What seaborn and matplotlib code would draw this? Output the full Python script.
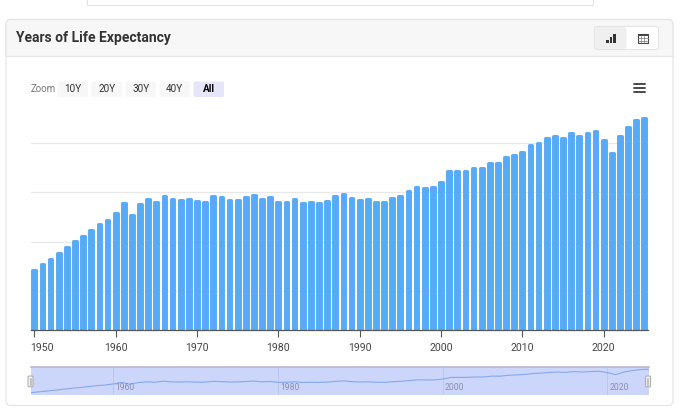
import pandas as pd
import seaborn as sns
from matplotlib import pyplot as plt
from matplotlib.patches import FancyBboxPatch, Rectangle
from matplotlib.transforms import Affine2D, ScaledTranslation

years = list(range(1950, 2026))
life_expectancy = [
    67.3, 67.9, 68.4, 69.0, 69.6, 70.2, 70.7, 71.3, 71.9, 72.3,
    73.0, 74.0, 72.8, 73.9, 74.4, 74.1, 74.8, 74.4, 74.3, 74.4,
    74.2, 74.1, 74.7, 74.6, 74.3, 74.3, 74.6, 74.9, 74.4, 74.6,
    74.1, 74.1, 74.4, 74.0, 74.1, 74.0, 74.2, 74.7, 75.0, 74.5,
    74.3, 74.4, 74.1, 74.1, 74.5, 74.8, 75.3, 75.7, 75.6, 75.7,
    76.2, 77.3, 77.3, 77.3, 77.6, 77.6, 78.1, 78.1, 78.7, 78.9,
    79.2, 79.9, 80.1, 80.6, 80.8, 80.6, 81.1, 80.8, 81.1, 81.3,
    80.4, 79.1, 80.8, 81.7, 82.4, 82.6,
]
axis_years = [1950, 1960, 1970, 1980, 1990, 2000, 2010, 2020]
grid_values = [65, 70, 75, 80]
nav_years = [1960, 1980, 2000, 2020]
zoom_labels = ['10Y', '20Y', '30Y', '40Y', 'All']

W, H = 680, 416
BAR_BLUE = '#56aaf7'

sns.set_theme(style='white')
plt.rcParams['font.family'] = ['Roboto', 'DejaVu Sans']

df = pd.DataFrame({'year': years, 'life': life_expectancy})

fig = plt.figure(figsize=(W / 100, H / 100), dpi=100, facecolor='white')


def px_axes(left, top, right, bottom, **kwargs):
    # axes placed with screenshot pixel coordinates
    return fig.add_axes([left / W, 1 - bottom / H, (right - left) / W, (bottom - top) / H], **kwargs)


# page furniture, drawn in pixel coordinates
bg = fig.add_axes([0, 0, 1, 1], zorder=0)
bg.set_xlim(0, W)
bg.set_ylim(H, 0)
bg.axis('off')

bg.add_patch(Rectangle((86.5, -5), 506, 9.5, fc='white', ec='#e4e4e4', lw=0.8))
bg.add_patch(FancyBboxPatch((6, 19.5), 667, 386, boxstyle='round,pad=0,rounding_size=5',
                            fc='white', ec='#e6e6e6', lw=0.9))
header = FancyBboxPatch((6, 19.5), 667, 50, boxstyle='round,pad=0,rounding_size=5',
                        fc='#f7f7f7', ec='#e6e6e6', lw=0.9)
bg.add_patch(header)
header.set_clip_path(Rectangle((0, 0), W, 56.2, transform=bg.transData))
bg.plot([6, 673], [56.2, 56.2], color='#e6e6e6', lw=0.9)

bg.text(16.4, 38, 'Years of Life Expectancy', fontsize=10, fontweight='bold',
        color='#333333', va='center', ha='left')

# chart / table toggle
bg.add_patch(FancyBboxPatch((594.5, 26.5), 64, 23, boxstyle='round,pad=0,rounding_size=3.5',
                            fc='white', ec='#e4e4e4', lw=0.8))
bg.add_patch(FancyBboxPatch((595, 27), 31.5, 22, boxstyle='round,pad=0,rounding_size=3',
                            fc='#efefef', ec='none'))
for bx, by in [(606.2, 40.2), (609.8, 37.2), (613.4, 33.6)]:
    bg.add_patch(Rectangle((bx, by), 2.6, 42.8 - by, fc='#333333', ec='none'))
bg.add_patch(Rectangle((637.5, 33.8), 10, 9.4, fc='white', ec='#444444', lw=0.8))
bg.add_patch(Rectangle((637.5, 33.8), 10, 2, fc='#444444', ec='none'))
for gx in [640.8, 644.2]:
    bg.plot([gx, gx], [35.8, 43.2], color='#777777', lw=0.5)
for gy in [38.4, 40.8]:
    bg.plot([637.5, 647.5], [gy, gy], color='#777777', lw=0.5)

# zoom buttons
bg.text(30.5, 89, 'Zoom', fontsize=7, color='#777777', va='center', ha='left')
for i, label in enumerate(zoom_labels):
    left = 57.5 + i * 34
    active = label == 'All'
    bg.add_patch(FancyBboxPatch((left, 81.5), 30.5, 15.5, boxstyle='round,pad=0,rounding_size=2',
                                fc='#e6e6fa' if active else '#f7f7f7', ec='none'))
    bg.text(left + 15.2, 89.2, label, fontsize=7.2, ha='center', va='center',
            color='#000000' if active else '#333333', fontweight='bold' if active else 'normal')

# burger menu
for my in [84.2, 88.3, 92.4]:
    bg.plot([634.2, 645.4], [my, my], color='#444444', lw=1.35, solid_capstyle='round')

# main chart
ax = px_axes(31, 92, 648, 330, zorder=2)
ax.patch.set_alpha(0)
sns.barplot(data=df, x='year', y='life', native_scale=True, color=BAR_BLUE, saturation=1,
            width=0.46, ax=ax)
ax.set_xlim(1949.59, 2025.45)
ax.set_ylim(61.08, 85.1)
ax.set_yticks(grid_values)
ax.set_yticklabels([])
ax.yaxis.grid(True, color='#e8e8e8', lw=0.9)
ax.set_axisbelow(True)
ax.set_xlabel('')
ax.set_ylabel('')
ax.set_xticks(axis_years)
ax.set_xticklabels([str(y) for y in axis_years])
ax.tick_params(axis='x', length=5, width=0.8, color='#555555', labelcolor='#444444',
               labelsize=7.6, pad=4.2, bottom=True)
ax.tick_params(axis='y', length=0)
for side in ['top', 'left', 'right']:
    ax.spines[side].set_visible(False)
ax.spines['bottom'].set_color('#555555')
ax.spines['bottom'].set_linewidth(0.9)

# thick round-joined edge gives the rounded bar tops, shifted down by the half edge width
for bar in ax.patches:
    bar.set_edgecolor(BAR_BLUE)
    bar.set_linewidth(2.1)
    bar.set_joinstyle('round')
    bar.set_transform(bar.get_data_transform() + Affine2D().translate(0, -1.45))

first = ax.get_xticklabels()[0]
first.set_ha('left')
first.set_transform(first.get_transform() + ScaledTranslation(-4.6 / 100, 0, fig.dpi_scale_trans))

# navigator strip
nav = px_axes(31, 367, 648.5, 395, zorder=2)
nav.set_facecolor('#ccd5fa')
sns.lineplot(data=df, x='year', y='life', color='#86a9ec', lw=0.8, ax=nav)
nav.set_xlim(1950, 2025)
nav.set_ylim(65.8, 84.1)
nav.set_xticks([])
nav.set_yticks([])
nav.set_xlabel('')
nav.set_ylabel('')
for side in ['left', 'right', 'bottom']:
    nav.spines[side].set_visible(False)
nav.spines['top'].set_color('#b9b9cc')
nav.spines['top'].set_linewidth(1.2)
for y in nav_years:
    nav.axvline(y, color='#bcc6ee', lw=0.7, zorder=1)
    nav.annotate(str(y), (y, 65.8), xytext=(1.6, 1.8), textcoords='offset points',
                 fontsize=6.2, color='#8b8fb0', ha='left', va='bottom')

# navigator handles
top = fig.add_axes([0, 0, 1, 1], zorder=3)
top.set_xlim(0, W)
top.set_ylim(H, 0)
top.axis('off')
for hx in [28, 645.6]:
    top.add_patch(FancyBboxPatch((hx, 376), 5, 10.8, boxstyle='round,pad=0,rounding_size=1',
                                 fc='#f2f2f2', ec='#a8a8a8', lw=0.7))
    top.plot([hx + 2.5, hx + 2.5], [378.5, 384.5], color='#c4c4c4', lw=1.6)

fig.savefig('out.png', dpi=100)
